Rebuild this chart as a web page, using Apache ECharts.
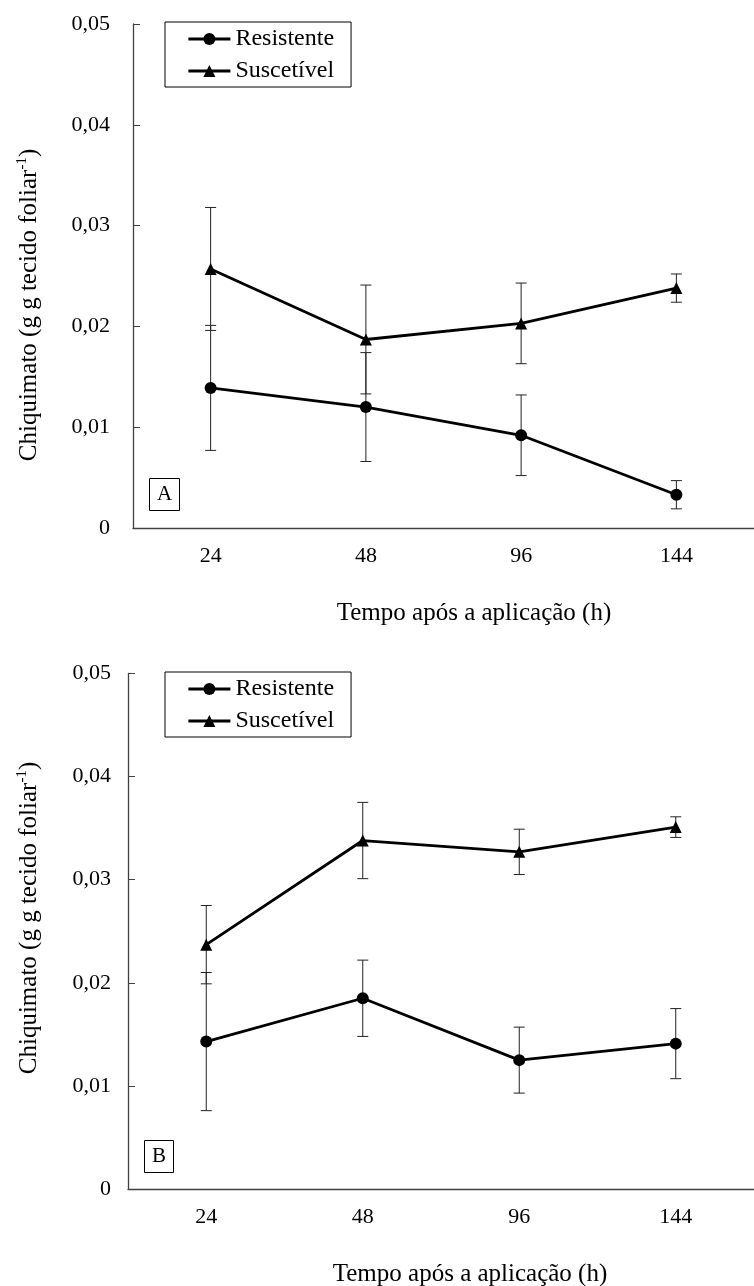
<!DOCTYPE html>
<html>
<head>
<meta charset="utf-8">
<script src="https://cdn.jsdelivr.net/npm/echarts@6/dist/echarts.min.js"></script>
<style>
  html, body { margin: 0; padding: 0; background: #fff; }
  #chart { width: 754px; height: 1286px; }
</style>
</head>
<body>
<div id="chart"></div>
<script>
// Hours after application (x categories) and y tick labels
const categories = ['24', '48', '96', '144'];
const yTickLabels = ['0', '0,01', '0,02', '0,03', '0,04', '0,05'];

// Panel A: shikimate content, means and error half-widths
const resistA = [0.0139, 0.0120, 0.0092, 0.0033];
const resistAErr = [0.0062, 0.0054, 0.0040, 0.0014];
const suscA = [0.0257, 0.0187, 0.0203, 0.0238];
const suscAErr = [0.0061, 0.0054, 0.0040, 0.0014];

// Panel B
const resistB = [0.0143, 0.0185, 0.0125, 0.0141];
const resistBErr = [0.0067, 0.0037, 0.0032, 0.0034];
const suscB = [0.0237, 0.0338, 0.0327, 0.0351];
const suscBErr = [0.0038, 0.0037, 0.0022, 0.0010];

const FONT = '"Liberation Serif", "Times New Roman", serif';
const AXIS_COLOR = '#404040';

function errData(vals, errs) {
  return vals.map((v, i) => [i, v, errs[i]]);
}

function renderErr(params, api) {
  const x = api.value(0);
  const v = api.value(1);
  const e = api.value(2);
  const top = api.coord([x, v + e]);
  const bot = api.coord([x, v - e]);
  const cap = 5.5;
  const style = { stroke: '#222', lineWidth: 1 };
  return {
    type: 'group',
    children: [
      { type: 'line', shape: { x1: top[0], y1: top[1], x2: bot[0], y2: bot[1] }, style },
      { type: 'line', shape: { x1: top[0] - cap, y1: top[1], x2: top[0] + cap, y2: top[1] }, style },
      { type: 'line', shape: { x1: bot[0] - cap, y1: bot[1], x2: bot[0] + cap, y2: bot[1] }, style }
    ]
  };
}

function xAxisFor(gridIndex) {
  return {
    type: 'category',
    gridIndex,
    data: categories,
    boundaryGap: true,
    axisLine: { lineStyle: { color: AXIS_COLOR, width: 1.3 } },
    axisTick: { inside: true, length: 6, lineStyle: { color: AXIS_COLOR, width: 1 } },
    axisLabel: { margin: 17, fontFamily: FONT, fontSize: 22, color: '#000' },
    splitLine: { show: false }
  };
}

function yAxisFor(gridIndex, margin) {
  return {
    type: 'value',
    gridIndex,
    min: 0,
    max: 0.05,
    interval: 0.01,
    axisLine: { show: true, lineStyle: { color: AXIS_COLOR, width: 1.3 } },
    axisTick: { show: true, inside: true, length: 7, lineStyle: { color: AXIS_COLOR, width: 1 } },
    axisLabel: {
      margin,
      fontFamily: FONT,
      fontSize: 22,
      color: '#000',
      formatter: v => yTickLabels[Math.round(v / 0.01)]
    },
    splitLine: { show: false }
  };
}

function lineSeries(name, symbol, data, idx) {
  return {
    name,
    type: 'line',
    xAxisIndex: idx,
    yAxisIndex: idx,
    data,
    symbol,
    symbolSize: 12,
    showSymbol: true,
    color: '#000',
    lineStyle: { color: '#000', width: 2.8 },
    itemStyle: { color: '#000' },
    z: 3,
    animation: false
  };
}

function errSeries(name, vals, errs, idx) {
  return {
    name: name + ' (erro)',
    type: 'custom',
    xAxisIndex: idx,
    yAxisIndex: idx,
    data: errData(vals, errs),
    renderItem: renderErr,
    z: 2,
    silent: true,
    animation: false
  };
}

function legendFor(top) {
  return {
    data: ['Resistente', 'Suscetível'],
    orient: 'vertical',
    left: 165,
    top,
    itemWidth: 42,
    itemHeight: 15,
    itemGap: 8,
    padding: [5, 17, 4, 22],
    borderColor: '#000',
    borderWidth: 1,
    selectedMode: false,
    lineStyle: { width: 2.8, color: '#000' },
    itemStyle: { color: '#000' },
    textStyle: { fontFamily: FONT, fontSize: 24, color: '#000' }
  };
}

function yTitle(x, y) {
  return {
    type: 'text',
    x,
    y,
    rotation: Math.PI / 2,
    style: {
      text: '{n|Chiquimato (g g tecido foliar}{s|-1}{n|)}',
      align: 'center',
      verticalAlign: 'middle',
      rich: {
        n: { fontFamily: FONT, fontSize: 25, color: '#000', lineHeight: 28 },
        s: { fontFamily: FONT, fontSize: 15, color: '#000', lineHeight: 28, verticalAlign: 'top' }
      }
    }
  };
}

function xTitle(x, y) {
  return {
    type: 'text',
    x,
    y,
    style: {
      text: 'Tempo após a aplicação (h)',
      fontFamily: FONT,
      fontSize: 25,
      fill: '#000',
      align: 'center',
      verticalAlign: 'middle'
    }
  };
}

function panelTag(text, left, top) {
  return {
    text,
    left,
    top,
    borderColor: '#000',
    borderWidth: 1,
    padding: [6, 8, 6, 8],
    textStyle: { fontFamily: FONT, fontSize: 21, fontWeight: 'normal', color: '#000' }
  };
}

const chart = echarts.init(document.getElementById('chart'), null, { renderer: 'canvas' });
chart.setOption({
  backgroundColor: '#fff',
  animation: false,
  title: [panelTag('A', 149, 478), panelTag('B', 144, 1140)],
  legend: [legendFor(22), legendFor(672)],
  grid: [
    { left: 133, top: 24, width: 630, height: 504 },
    { left: 128, top: 673.5, width: 636, height: 515.5 }
  ],
  xAxis: [xAxisFor(0), xAxisFor(1)],
  yAxis: [yAxisFor(0, 23), yAxisFor(1, 17)],
  graphic: [
    yTitle(29, 305),
    yTitle(29, 918),
    xTitle(474, 613),
    xTitle(470, 1274)
  ],
  series: [
    lineSeries('Resistente', 'circle', resistA, 0),
    lineSeries('Suscetível', 'triangle', suscA, 0),
    errSeries('Resistente', resistA, resistAErr, 0),
    errSeries('Suscetível', suscA, suscAErr, 0),
    lineSeries('Resistente', 'circle', resistB, 1),
    lineSeries('Suscetível', 'triangle', suscB, 1),
    errSeries('Resistente', resistB, resistBErr, 1),
    errSeries('Suscetível', suscB, suscBErr, 1)
  ]
});
</script>
</body>
</html>
